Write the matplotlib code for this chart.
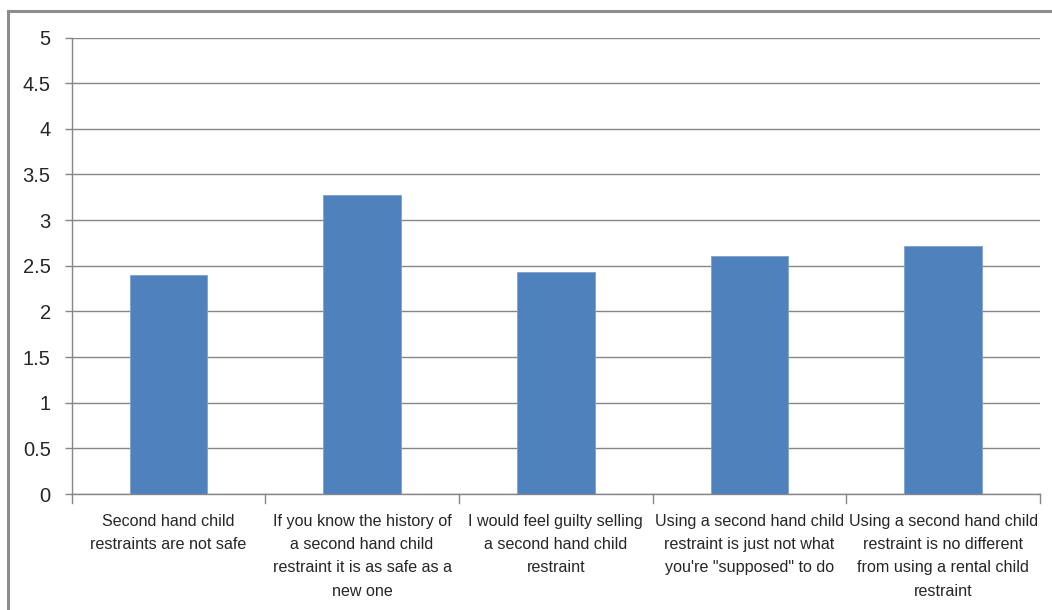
import matplotlib.pyplot as plt
from matplotlib.lines import Line2D

# DONNEES
categories = [
    "Second hand child\nrestraints are not safe",
    "If you know the history of\na second hand child\nrestraint it is as safe as a\nnew one",
    "I would feel guilty selling\na second hand child\nrestraint",
    "Using a second hand child\nrestraint is just not what\nyou're \"supposed\" to do",
    "Using a second hand child\nrestraint is no different\nfrom using a rental child\nrestraint",
]
valeurs = [2.40, 3.28, 2.43, 2.61, 2.72]
graduations_y = [0, 0.5, 1, 1.5, 2, 2.5, 3, 3.5, 4, 4.5, 5]
etiquettes_y = ["0", "0.5", "1", "1.5", "2", "2.5", "3", "3.5", "4", "4.5", "5"]

plt.rcParams["font.family"] = ["Liberation Sans", "DejaVu Sans"]
gris = "#868686"

fig = plt.figure(figsize=(10.52, 6.10), dpi=100)
ax = fig.add_axes([0.068, 0.190, 0.9206, 0.7485])

positions = list(range(len(categories)))
ax.bar(positions, valeurs, width=0.4, color="#4F81BD", edgecolor="#7FA1CE",
       linewidth=0.6, zorder=3)

ax.set_xlim(-0.5, len(categories) - 0.5)
ax.set_ylim(0, 5)
ax.set_yticks(graduations_y)
ax.set_yticklabels(etiquettes_y, fontsize=14.5, color="#262626")
ax.yaxis.grid(True, color=gris, linewidth=1, zorder=0)

# etiquettes des categories, centrees sous chaque barre
ax.set_xticks(positions)
ax.set_xticklabels(categories, fontsize=11.6, color="#262626", linespacing=1.7)
ax.tick_params(axis="x", length=0, pad=14)
ax.tick_params(axis="y", length=5, color=gris, width=1, pad=10)

# petits traits entre les categories
for b in [x - 0.5 for x in range(len(categories) + 1)]:
    ax.plot([b, b], [0, -0.1], color=gris, linewidth=1, clip_on=False, zorder=2)

for cote in ["top", "right"]:
    ax.spines[cote].set_visible(False)
for cote in ["left", "bottom"]:
    ax.spines[cote].set_color(gris)
    ax.spines[cote].set_linewidth(1)

# cadre du graphique (coins haut et gauche visibles)
x0 = 7.5 / 1052
y0 = 1 - 11 / 610
fig.add_artist(Line2D([x0, 1.0], [y0, y0], transform=fig.transFigure,
                      color="#8c8c8c", linewidth=2.2))
fig.add_artist(Line2D([x0, x0], [0.0, y0], transform=fig.transFigure,
                      color="#8c8c8c", linewidth=2.2))

fig.savefig("out.png", dpi=100)
plt.close()
